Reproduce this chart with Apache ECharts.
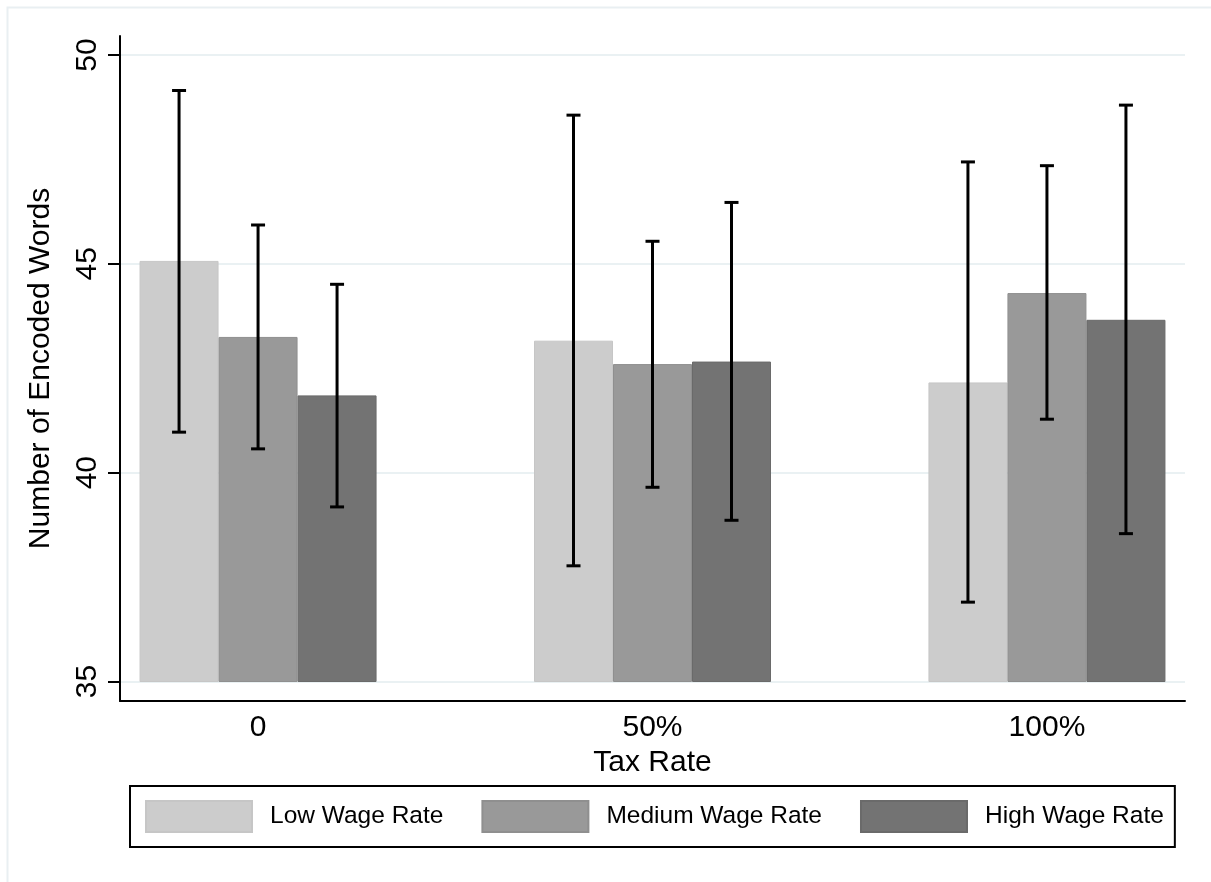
<!DOCTYPE html>
<html>
<head>
<meta charset="utf-8">
<script src="https://cdn.jsdelivr.net/npm/echarts@6/dist/echarts.min.js"></script>
<style>
html,body{margin:0;padding:0;background:#fff;}
#chart{width:1211px;height:882px;}
</style>
</head>
<body>
<div id="chart"></div>
<script>
// ---- data ----
var taxRates = ['0', '50%', '100%'];
var seriesNames = ['Low Wage Rate', 'Medium Wage Rate', 'High Wage Rate'];
var lowWage = [45.07, 43.16, 42.16];
var lowWageLo = [40.97, 37.77, 36.90];
var lowWageHi = [49.15, 48.56, 47.44];
var mediumWage = [43.25, 42.60, 44.30];
var mediumWageLo = [40.57, 39.65, 41.28];
var mediumWageHi = [45.93, 45.54, 47.35];
var highWage = [41.85, 42.66, 43.66];
var highWageLo = [39.18, 38.86, 38.54];
var highWageHi = [44.51, 46.47, 48.80];
var yTicks = [35, 40, 45, 50];

var FONT = '"Liberation Sans", Arial, sans-serif';
var BAR_W = 79;
var colors = ['#cccccc', '#999999', '#737373'];
var borders = ['#c6c6c6', '#8f8f8f', '#6a6a6a'];
var means = [lowWage, mediumWage, highWage];
var los = [lowWageLo, mediumWageLo, highWageLo];
var his = [lowWageHi, mediumWageHi, highWageHi];

var chart = echarts.init(document.getElementById('chart'), null, {renderer: 'canvas'});

var series = [];
means.forEach(function (arr, k) {
  series.push({
    name: seriesNames[k],
    type: 'bar',
    xAxisIndex: 0, yAxisIndex: 0,
    barWidth: BAR_W,
    barGap: '0%',
    itemStyle: {color: colors[k], borderColor: borders[k], borderWidth: 1},
    emphasis: {disabled: true},
    data: arr.map(function (v, i) { return [i, v]; }),
    z: 2
  });
});
means.forEach(function (arr, k) {
  series.push({
    name: seriesNames[k] + ' CI',
    type: 'custom',
    xAxisIndex: 0, yAxisIndex: 0,
    z: 5,
    data: arr.map(function (v, i) { return [i, los[k][i], his[k][i]]; }),
    encode: {x: 0, y: [1, 2]},
    renderItem: function (params, api) {
      var x = api.value(0);
      var off = (k - 1) * BAR_W;
      var pHi = api.coord([x, api.value(2)]);
      var pLo = api.coord([x, api.value(1)]);
      var cx = pHi[0] + off;
      var cap = 7;
      var st = {stroke: '#000', lineWidth: 3};
      return {
        type: 'group',
        children: [
          {type: 'line', shape: {x1: cx, y1: pHi[1], x2: cx, y2: pLo[1]}, style: st},
          {type: 'line', shape: {x1: cx - cap, y1: pHi[1], x2: cx + cap, y2: pHi[1]}, style: st},
          {type: 'line', shape: {x1: cx - cap, y1: pLo[1], x2: cx + cap, y2: pLo[1]}, style: st}
        ]
      };
    }
  });
});

var option = {
  animation: false,
  backgroundColor: '#ffffff',
  textStyle: {fontFamily: FONT},
  graphic: [{
    type: 'rect', left: 5, top: 5, silent: true, z: -10,
    shape: {width: 1400, height: 1100},
    style: {fill: 'none', stroke: '#e9eff2', lineWidth: 2}
  }],
  grid: [
    {left: 120, top: 55, width: 1065, height: 626.5},
    {left: 120, top: 36, width: 1065, height: 665}
  ],
  xAxis: [
    {gridIndex: 0, type: 'value', min: -0.35, max: 2.35, show: false,
     axisLine: {onZero: false}},
    {
      gridIndex: 1, type: 'value', min: -0.35, max: 2.35,
      axisLine: {show: true, onZero: false, lineStyle: {color: '#000', width: 2}},
      axisTick: {show: false},
      splitLine: {show: false},
      axisLabel: {
        customValues: [0, 1, 2],
        formatter: function (v) { return taxRates[Math.round(v)]; },
        fontSize: 30, color: '#000', fontFamily: FONT, margin: 12
      },
      name: 'Tax Rate', nameLocation: 'middle', nameGap: 42,
      nameTextStyle: {fontSize: 30, color: '#000', fontFamily: FONT}
    }
  ],
  yAxis: [
    {
      gridIndex: 0, type: 'value', min: 35, max: 50, interval: 5,
      position: 'left',
      axisLine: {show: false, onZero: false},
      axisTick: {show: true, length: 12, lineStyle: {color: '#000', width: 2}},
      axisLabel: {rotate: 90, fontSize: 30, color: '#000', fontFamily: FONT, margin: 17,
                  customValues: yTicks},
      splitLine: {show: true, lineStyle: {color: '#eaf1f3', width: 2}}
    },
    {
      gridIndex: 1, type: 'value', min: 0, max: 1,
      position: 'left',
      axisLine: {show: true, onZero: false, lineStyle: {color: '#000', width: 2}},
      axisTick: {show: false}, axisLabel: {show: false}, splitLine: {show: false},
      name: 'Number of Encoded Words', nameLocation: 'middle', nameGap: 64,
      nameTextStyle: {fontSize: 30, color: '#000', fontFamily: FONT}
    }
  ],
  legend: {
    data: seriesNames,
    left: 130, top: 786,
    orient: 'horizontal',
    padding: [14, 11, 14, 15],
    borderColor: '#000', borderWidth: 2,
    itemWidth: 106, itemHeight: 31, itemGap: 38,
    icon: 'rect',
    selectedMode: false,
    textStyle: {fontSize: 24.5, color: '#000', fontFamily: FONT, padding: [0, 0, 0, 13]}
  },
  series: series
};
chart.setOption(option);
</script>
</body>
</html>
